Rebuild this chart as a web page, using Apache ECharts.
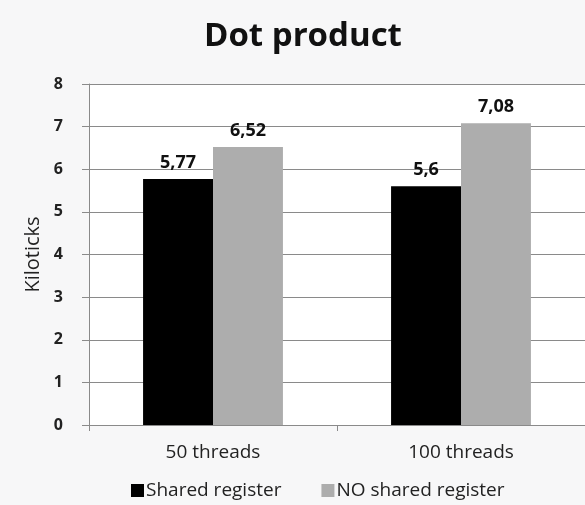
<!DOCTYPE html>
<html>
<head>
<meta charset="utf-8">
<style>
  html, body { margin: 0; padding: 0; background: #f7f7f8; }
  #chart { width: 585px; height: 505px; }
</style>
<script src="https://cdn.jsdelivr.net/npm/echarts@6/dist/echarts.min.js"></script>
</head>
<body>
<div id="chart"></div>
<script>
// Dot product timing, in kiloticks
const categories = ['50 threads', '100 threads'];
const sharedRegister = [5.77, 5.6];
const noSharedRegister = [6.52, 7.08];
const yTicks = [0, 1, 2, 3, 4, 5, 6, 7, 8];

const FONT = '"Open Sans", "DejaVu Sans", sans-serif';
const commaDecimal = p => String(p.value).replace('.', ',');

const valueLabel = {
  show: true, position: 'top', distance: 7,
  formatter: commaDecimal,
  fontFamily: FONT, fontSize: 18, fontWeight: 'bold', color: '#111'
};

const chart = echarts.init(document.getElementById('chart'));
chart.setOption({
  backgroundColor: '#f7f7f8',
  animation: false,
  title: {
    text: 'Dot product',
    left: 199,
    top: 15,
    textStyle: { fontFamily: FONT, fontSize: 33, fontWeight: 'bold', color: '#111' }
  },
  legend: {
    left: 126,
    top: 476,
    itemWidth: 13,
    itemHeight: 13,
    itemGap: 40,
    icon: 'rect',
    textStyle: { fontFamily: FONT, fontSize: 19, color: '#222', padding: [0, 0, 0, -3] },
    data: ['Shared register', 'NO shared register']
  },
  grid: {
    left: 89,
    right: -4,
    top: 84,
    bottom: 80,
    show: true,
    backgroundColor: '#ffffff',
    borderWidth: 0
  },
  xAxis: {
    type: 'category',
    data: categories,
    axisLine: { show: true, lineStyle: { color: '#8a8a8a', width: 1 } },
    axisTick: { show: true, length: 6, lineStyle: { color: '#8a8a8a' } },
    axisLabel: { fontFamily: FONT, fontSize: 19, color: '#222', margin: 18 }
  },
  yAxis: {
    type: 'value',
    min: yTicks[0],
    max: yTicks[yTicks.length - 1],
    interval: 1,
    name: 'Kiloticks',
    nameLocation: 'middle',
    nameGap: 44,
    nameTextStyle: { fontFamily: FONT, fontSize: 20, color: '#222' },
    axisLine: { show: true, lineStyle: { color: '#8a8a8a', width: 1 } },
    axisTick: { show: true, length: 7, lineStyle: { color: '#8a8a8a' } },
    axisLabel: { fontFamily: FONT, fontSize: 16, fontWeight: 'bold', color: '#222', margin: 26 },
    splitLine: { show: true, lineStyle: { color: '#8a8a8a', width: 1 } }
  },
  series: [
    {
      name: 'Shared register',
      type: 'bar',
      data: sharedRegister,
      barGap: '0%',
      barCategoryGap: '43.6%',
      itemStyle: { color: '#000000' },
      label: valueLabel
    },
    {
      name: 'NO shared register',
      type: 'bar',
      data: noSharedRegister,
      barGap: '0%',
      barCategoryGap: '43.6%',
      itemStyle: { color: '#adadad' },
      label: valueLabel
    }
  ]
});
</script>
</body>
</html>
